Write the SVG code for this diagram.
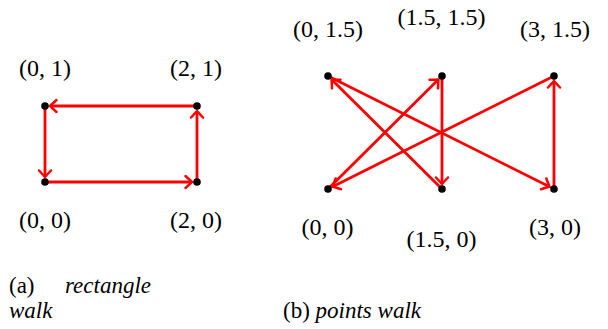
<svg xmlns="http://www.w3.org/2000/svg" width="608" height="329" viewBox="0 0 608 329">
<style>
.lbl{font-family:'Liberation Serif','DejaVu Serif',serif;font-size:24px;fill:#000;text-anchor:middle}
.cap{font-family:'Liberation Serif','DejaVu Serif',serif;font-size:23px;fill:#000}
.it{font-style:italic}
.e{stroke:#ff0000;stroke-width:2.8;fill:none;marker-end:url(#ah)}
.dot{fill:#000}
</style>
<defs>
<marker id="ah" markerUnits="userSpaceOnUse" viewBox="-8 -7 10 14" markerWidth="10" markerHeight="14" refX="0" refY="0" orient="auto" overflow="visible">
<path d="M -6.5 -6 Q -1.5 -1.3 0 0 Q -1.5 1.3 -6.5 6" fill="none" stroke="#ff0000" stroke-width="2.5" stroke-linecap="round"/>
</marker>
</defs>
<rect width="608" height="329" fill="#fff"/>
<g id="connectors">
<line class="e" x1="197" y1="106" x2="50" y2="106"/>
<line class="e" x1="45" y1="106" x2="45" y2="177"/>
<line class="e" x1="45" y1="182" x2="192" y2="182"/>
<line class="e" x1="197" y1="182" x2="197" y2="111"/>
<line class="e" x1="328" y1="189" x2="438.4" y2="79.5"/>
<line class="e" x1="442" y1="76" x2="442" y2="184"/>
<line class="e" x1="442" y1="189" x2="331.6" y2="79.5"/>
<line class="e" x1="328" y1="76" x2="549.5" y2="186.8"/>
<line class="e" x1="554" y1="189" x2="554" y2="81"/>
<line class="e" x1="554" y1="76" x2="332.5" y2="186.8"/>
</g>
<g id="a01"><circle class="dot" cx="45" cy="106" r="3.8"/><text class="lbl" x="45" y="76">(0, 1)</text></g>
<g id="a21"><circle class="dot" cx="197" cy="106" r="3.8"/><text class="lbl" x="196" y="76">(2, 1)</text></g>
<g id="a00"><circle class="dot" cx="45" cy="182" r="3.8"/><text class="lbl" x="45" y="228">(0, 0)</text></g>
<g id="a20"><circle class="dot" cx="197" cy="182" r="3.8"/><text class="lbl" x="196" y="228">(2, 0)</text></g>
<g id="b0_15"><circle class="dot" cx="328" cy="76" r="3.8"/><text class="lbl" x="328" y="37">(0, 1.5)</text></g>
<g id="b15_15"><circle class="dot" cx="442" cy="76" r="3.8"/><text class="lbl" x="441.5" y="25">(1.5, 1.5)</text></g>
<g id="b3_15"><circle class="dot" cx="554" cy="76" r="3.8"/><text class="lbl" x="555" y="37">(3, 1.5)</text></g>
<g id="b0_0"><circle class="dot" cx="328" cy="189" r="3.8"/><text class="lbl" x="327.5" y="235">(0, 0)</text></g>
<g id="b15_0"><circle class="dot" cx="442" cy="189" r="3.8"/><text class="lbl" x="441.5" y="247">(1.5, 0)</text></g>
<g id="b3_0"><circle class="dot" cx="554" cy="189" r="3.8"/><text class="lbl" x="555" y="235">(3, 0)</text></g>
<g id="captions">
<text class="cap" x="9" y="293">(a)</text>
<text class="cap it" x="65" y="293">rectangle</text>
<text class="cap it" x="9" y="318">walk</text>
<text class="cap" x="283" y="318">(b) <tspan class="it">points walk</tspan></text>
</g>
</svg>
